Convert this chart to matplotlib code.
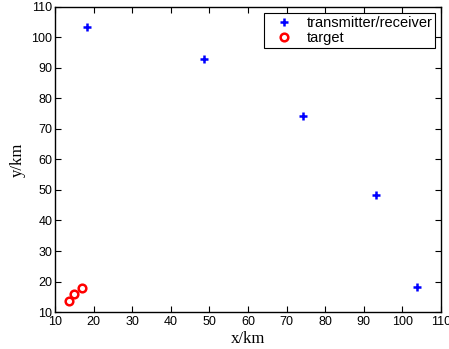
import matplotlib
matplotlib.use("Agg")
import matplotlib.pyplot as plt

# transmitter/receiver positions (km)
tx_x = [18.2, 48.6, 74.3, 93.3, 103.7]
tx_y = [103.4, 93.0, 74.2, 48.5, 18.2]

# target positions (km)
tg_x = [13.5, 15.0, 17.1]
tg_y = [13.6, 15.9, 18.0]

ticks = [10, 20, 30, 40, 50, 60, 70, 80, 90, 100, 110]

fig = plt.figure(figsize=(4.49, 3.49), dpi=100)
ax = fig.add_axes([0.1225, 0.106, 0.8595, 0.874])

ax.plot(tx_x, tx_y, "+", color="blue", markersize=5.5, markeredgewidth=1.8,
        label="transmitter/receiver")
ax.plot(tg_x, tg_y, "o", color="red", markerfacecolor="none", markersize=5.5,
        markeredgewidth=1.8, label="target")

ax.set_xlim(10, 110)
ax.set_ylim(10, 110)
ax.set_xticks(ticks)
ax.set_yticks(ticks)
ax.tick_params(direction="in", top=True, right=True, length=4, width=0.8,
               labelsize=9, pad=2)
ax.tick_params(axis="x", pad=3)
for lbl in ax.get_xticklabels() + ax.get_yticklabels():
    lbl.set_family("Liberation Sans")
for sp in ax.spines.values():
    sp.set_linewidth(1.0)

ax.set_xlabel("x/km", family="Liberation Serif", fontsize=12, labelpad=2)
ax.set_ylabel("y/km", family="Liberation Serif", fontsize=12, labelpad=4)

leg = ax.legend(loc="upper right", prop={"family": "Liberation Sans", "size": 10.5},
                fancybox=False, edgecolor="black", framealpha=1,
                borderaxespad=0.4, handletextpad=0.3, borderpad=0.2,
                labelspacing=0.1, handlelength=2.4)
leg.get_frame().set_linewidth(0.8)

fig.savefig("out.png", dpi=100)
